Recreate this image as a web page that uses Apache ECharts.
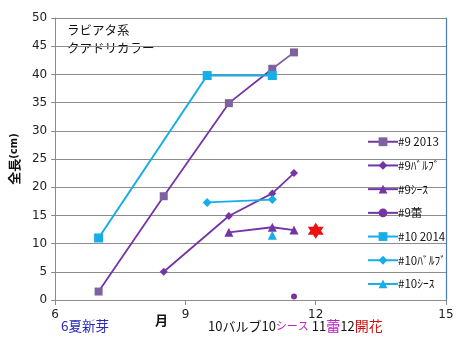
<!DOCTYPE html>
<html>
<head>
<meta charset="utf-8">
<script src="https://cdn.jsdelivr.net/npm/echarts@6/dist/echarts.min.js"></script>
<style>
  html, body { margin: 0; padding: 0; background: #fff; }
  #chart { width: 462px; height: 341px; }
</style>
</head>
<body>
<div id="chart"></div>
<script>
// Growth records (month, total length in cm)
const months9_2013 = [7, 8.5, 10, 11, 11.5];
const length9_2013 = [1.5, 18.4, 34.9, 41, 43.9];
const months9_bulb = [8.5, 10, 11, 11.5];
const length9_bulb = [5, 14.9, 18.9, 22.5];
const months9_sheath = [10, 11, 11.5];
const length9_sheath = [12, 12.9, 12.4];
const months9_bud = [11.5];
const length9_bud = [0.6];
const months10_2014 = [7, 9.5, 11];
const length10_2014 = [11, 39.8, 39.8];
const months10_bulb = [9.5, 11];
const length10_bulb = [17.3, 17.8];
const months10_sheath = [11];
const length10_sheath = [11.5];
const monthsBloom = [12];
const lengthBloom = [12.3];

const xTicks = [6, 9, 12, 15];
const seriesNames = ['#9 2013', '#9ﾊﾞﾙﾌﾞ', '#9ｼｰｽ', '#9蕾', '#10 2014', '#10ﾊﾞﾙﾌﾞ', '#10ｼｰｽ'];

const pairs = (xs, ys) => xs.map((x, i) => [x, ys[i]]);

const greyPurple = '#7E62A0';
const purple = '#7434A6';
const cyan = '#16AEE6';
const star = 'path://M0,-10L2.887,-5L8.66,-5L5.774,0L8.66,5L2.887,5L0,10L-2.887,5L-8.66,5L-5.774,0L-8.66,-5L-2.887,-5Z';

function lineSeries(name, data, color, symbol, size, width) {
  return {
    name, type: 'line', data, symbol, symbolSize: size,
    showAllSymbol: true,
    lineStyle: { color, width },
    itemStyle: { color },
    emphasis: { disabled: true },
    z: 3
  };
}

const chart = echarts.init(document.getElementById('chart'), null, { renderer: 'canvas' });
chart.setOption({
  animation: false,
  backgroundColor: '#fff',
  grid: { left: 50, right: 16, top: 18, bottom: 41, containLabel: false },
  xAxis: {
    type: 'value', min: xTicks[0], max: xTicks[xTicks.length - 1], interval: 3,
    axisLine: { show: true, lineStyle: { color: '#8a8a8a', width: 1 } },
    axisTick: { show: true, inside: false, length: 5, lineStyle: { color: '#8a8a8a' } },
    axisLabel: { color: '#222', fontSize: 12, fontFamily: 'DejaVu Sans', margin: 9 },
    splitLine: { show: false }
  },
  yAxis: [{
    type: 'value', min: 0, max: 50, interval: 5,
    name: '{a|全長}{b|(cm)}', nameLocation: 'middle', nameGap: 30, nameRotate: 90,
    nameTextStyle: {
      rich: {
        a: { fontSize: 13, fontWeight: 'bold', color: '#111', fontFamily: 'Noto Sans CJK JP' },
        b: { fontSize: 10, fontWeight: 'bold', color: '#111', fontFamily: 'DejaVu Sans' }
      }
    },
    axisLine: { show: true, lineStyle: { color: '#8a8a8a', width: 1 } },
    axisTick: { show: true, length: 4, lineStyle: { color: '#8a8a8a' } },
    axisLabel: { color: '#222', fontSize: 12, fontFamily: 'DejaVu Sans', margin: 8 },
    splitLine: { show: true, lineStyle: { color: '#8c8c8c', width: 1 } }
  }, {
    type: 'value', min: 0, max: 50, interval: 5, position: 'right',
    axisLine: { show: true, lineStyle: { color: '#4a7ebb', width: 1.2 } },
    axisTick: { show: false }, axisLabel: { show: false }, splitLine: { show: false }
  }],
  legend: {
    orient: 'vertical', left: 362, top: 131, itemGap: 12.2,
    itemWidth: 30, itemHeight: 11,
    data: seriesNames,
    textStyle: { fontSize: 11.5, color: '#111', fontFamily: 'Noto Sans CJK JP', padding: [0, 0, 0, -5] },
    selectedMode: false
  },
  graphic: [
    { type: 'text', left: 67, top: 24, style: { text: 'ラビアタ系', fontSize: 12.5, fill: '#111', fontFamily: 'Noto Sans CJK JP' } },
    { type: 'text', left: 67, top: 42, style: { text: 'クアドリカラー', fontSize: 12.5, fill: '#111', fontFamily: 'Noto Sans CJK JP' } },
    { type: 'text', left: 155, top: 314, style: { text: '月', fontSize: 13, fontWeight: 'bold', fill: '#111', fontFamily: 'Noto Sans CJK JP' } },
    { type: 'text', left: 61, top: 319, style: { text: '6夏新芽', fontSize: 13.5, fill: '#2a2ab8', fontFamily: 'Noto Sans CJK JP' } },
    {
      type: 'text', left: 208, top: 319,
      style: {
        text: '{k|10バルブ10}{m|シース}{k| 11}{n|蕾}{k|12}{r|開花}',
        fontFamily: 'Noto Sans CJK JP',
        rich: {
          k: { fontSize: 13, fill: '#111', fontFamily: 'Noto Sans CJK JP' },
          m: { fontSize: 11, fill: '#c020c8', fontFamily: 'Noto Sans CJK JP' },
          n: { fontSize: 14, fill: '#c020c8', fontFamily: 'Noto Sans CJK JP' },
          r: { fontSize: 14, fill: '#d01010', fontFamily: 'Noto Sans CJK JP' }
        }
      }
    }
  ],
  series: [
    lineSeries(seriesNames[0], pairs(months9_2013, length9_2013), greyPurple, 'rect', 8, 2),
    lineSeries(seriesNames[1], pairs(months9_bulb, length9_bulb), purple, 'diamond', 8, 1.8),
    lineSeries(seriesNames[2], pairs(months9_sheath, length9_sheath), purple, 'triangle', 9, 1.8),
    lineSeries(seriesNames[3], pairs(months9_bud, length9_bud), purple, 'circle', 6, 1.8),
    lineSeries(seriesNames[4], pairs(months10_2014, length10_2014), cyan, 'rect', 9, 2),
    lineSeries(seriesNames[5], pairs(months10_bulb, length10_bulb), cyan, 'diamond', 9, 1.8),
    lineSeries(seriesNames[6], pairs(months10_sheath, length10_sheath), cyan, 'triangle', 9, 1.8),
    {
      name: '開花', type: 'line', data: pairs(monthsBloom, lengthBloom),
      symbol: star, symbolSize: 16, itemStyle: { color: '#ee1111' },
      lineStyle: { width: 0 }, emphasis: { disabled: true }, z: 4
    }
  ]
});

// The 2013 line is purple up to its fourth point and grey-purple after it:
// a hard-stop gradient placed at that point's pixel position on the x scale.
const splitX = chart.convertToPixel({ gridIndex: 0 }, [months9_2013[3], 0])[0];
const lastX = chart.convertToPixel({ gridIndex: 0 }, [months9_2013[months9_2013.length - 1], 0])[0];
const firstX = chart.convertToPixel({ gridIndex: 0 }, [months9_2013[0], 0])[0];
const t = (splitX - firstX) / (lastX - firstX);
chart.setOption({
  series: [{
    name: seriesNames[0],
    lineStyle: {
      color: new echarts.graphic.LinearGradient(firstX, 0, lastX, 0, [
        { offset: 0, color: purple },
        { offset: t, color: purple },
        { offset: t, color: greyPurple },
        { offset: 1, color: greyPurple }
      ], true),
      width: 1.8
    }
  }]
});
</script>
</body>
</html>
